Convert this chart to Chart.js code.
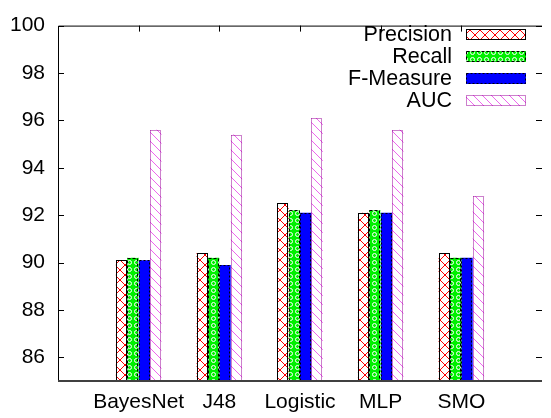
<!DOCTYPE html>
<html>
<head>
<meta charset="utf-8">
<script src="https://cdn.jsdelivr.net/npm/chart.js"></script>
<style>
html, body { margin: 0; padding: 0; background: #fff; overflow: hidden; }
</style>
</head>
<body>
<canvas id="chart" width="551" height="418"></canvas>
<script>
const categories = ['BayesNet', 'J48', 'Logistic', 'MLP', 'SMO'];
const precision = [90.1, 90.4, 92.5, 92.1, 90.4];
const recall = [90.2, 90.2, 92.2, 92.2, 90.2];
const fMeasure = [90.1, 89.9, 92.1, 92.1, 90.2];
const auc = [95.6, 95.4, 96.1, 95.6, 92.8];
const yTicks = [86, 88, 90, 92, 94, 96, 98, 100];

const FONT = '"Liberation Sans", Arial, sans-serif';

function makeTile(w, h, draw) {
    const c = document.createElement('canvas');
    c.width = w; c.height = h;
    const g = c.getContext('2d');
    draw(g, w, h);
    return document.getElementById('chart').getContext('2d').createPattern(c, 'repeat');
}

// red cross hatch
const crossPattern = makeTile(10, 10, (g, w, h) => {
    g.fillStyle = '#fff'; g.fillRect(0, 0, w, h);
    g.strokeStyle = '#ff0000'; g.lineWidth = 1;
    g.beginPath();
    g.moveTo(0, 0); g.lineTo(w, h);
    g.moveTo(w, 0); g.lineTo(0, h);
    g.stroke();
});

// green with little rings
const ringPattern = makeTile(7, 7, (g, w, h) => {
    g.fillStyle = '#00f000'; g.fillRect(0, 0, w, h);
    g.strokeStyle = '#ffffff'; g.lineWidth = 1;
    g.beginPath(); g.arc(3.5, 3.5, 2, 0, Math.PI * 2); g.stroke();
});

// magenta backslash lines
const hatchPattern = makeTile(9, 9, (g, w, h) => {
    g.fillStyle = '#fff'; g.fillRect(0, 0, w, h);
    g.strokeStyle = '#ee66ee'; g.lineWidth = 1;
    g.beginPath();
    g.moveTo(0, 0); g.lineTo(w, h);
    g.moveTo(-1, h - 1); g.lineTo(1, h + 1);
    g.moveTo(w - 1, -1); g.lineTo(w + 1, 1);
    g.stroke();
});

const pad = arr => [null, ...arr, null];

const frameAndLegend = {
    id: 'frameAndLegend',
    afterDatasetsDraw(chart) {
        const ctx = chart.ctx;
        const a = chart.chartArea;
        const xs = chart.scales.x, ys = chart.scales.y;

        // dashed bar outlines, base clipped to the plot bottom
        chart.data.datasets.forEach((ds, i) => {
            const meta = chart.getDatasetMeta(i);
            meta.data.forEach((bar, j) => {
                if (ds.data[j] == null) return;
                const p = bar.getProps(['x', 'y', 'base', 'width'], true);
                const base = Math.min(p.base, a.bottom);
                ctx.save();
                ctx.strokeStyle = ds.edgeColor;
                ctx.setLineDash(ds.edgeDash);
                ctx.lineWidth = 1;
                const left = Math.round(p.x - p.width / 2) + 0.5;
                const top = Math.round(p.y) + 0.5;
                ctx.strokeRect(left, top, Math.round(p.width) - 1, Math.round(base) - top);
                ctx.restore();
            });
        });

        // border
        ctx.save();
        ctx.strokeStyle = '#000';
        ctx.lineWidth = 1;
        ctx.beginPath();
        ctx.moveTo(a.left + 0.5, a.bottom);
        ctx.lineTo(a.left + 0.5, a.top + 0.5);
        ctx.lineTo(a.right, a.top + 0.5);
        ctx.stroke();
        ctx.strokeStyle = '#404040';
        ctx.lineWidth = 2;
        ctx.beginPath();
        ctx.moveTo(a.left, a.bottom);
        ctx.lineTo(a.right, a.bottom);
        ctx.stroke();

        // inward ticks
        ctx.lineWidth = 1;
        ctx.strokeStyle = '#000';
        ctx.beginPath();
        yTicks.forEach(v => {
            const py = Math.round(ys.getPixelForValue(v)) + 0.5;
            ctx.moveTo(a.left, py); ctx.lineTo(a.left + 6, py);
            ctx.moveTo(a.right, py); ctx.lineTo(a.right - 6, py);
        });
        categories.forEach((c, i) => {
            const px = Math.round(xs.getPixelForValue(i + 1)) + 0.5;
            ctx.moveTo(px, a.top); ctx.lineTo(px, a.top + 6);
        });
        ctx.stroke();

        // legend, gnuplot style: text then sample box
        ctx.font = '21.5px ' + FONT;
        ctx.textAlign = 'right';
        ctx.textBaseline = 'middle';
        chart.data.datasets.forEach((ds, i) => {
            const yc = 34 + i * 22;
            ctx.fillStyle = '#000';
            ctx.fillText(ds.label, 452, yc + 1);
            ctx.fillStyle = ds.backgroundColor;
            ctx.fillRect(466, yc - 5, 60, 11);
            ctx.setLineDash(ds.edgeDash);
            ctx.strokeStyle = ds.edgeColor;
            ctx.strokeRect(466.5, yc - 5 + 0.5, 59, 10);
        });
        ctx.restore();
    }
};

new Chart(document.getElementById('chart'), {
    type: 'bar',
    data: {
        labels: ['', ...categories, ''],
        datasets: [
            { label: 'Precision', data: pad(precision), backgroundColor: crossPattern, edgeColor: '#000', edgeDash: [] },
            { label: 'Recall', data: pad(recall), backgroundColor: ringPattern, edgeColor: '#000', edgeDash: [3, 2] },
            { label: 'F-Measure', data: pad(fMeasure), backgroundColor: '#0000ff', edgeColor: '#000', edgeDash: [2, 2] },
            { label: 'AUC', data: pad(auc), backgroundColor: hatchPattern, edgeColor: '#990099', edgeDash: [1, 1] }
        ]
    },
    options: {
        responsive: false,
        animation: false,
        events: [],
        layout: { padding: { top: 17, right: 0, left: 0, bottom: 0 } },
        datasets: { bar: { borderWidth: 0, categoryPercentage: 0.565, barPercentage: 1.0 } },
        plugins: { legend: { display: false }, tooltip: { enabled: false } },
        scales: {
            x: {
                offset: false,
                grid: { display: false, drawTicks: false },
                border: { display: false },
                ticks: { autoSkip: false, maxRotation: 0, padding: 9, color: '#000', font: { family: FONT, size: 21 } },
                afterFit: s => { s.height = 37; }
            },
            y: {
                min: 85,
                max: 100,
                grid: { display: false, drawTicks: false },
                border: { display: false },
                ticks: { padding: 13, color: '#000', font: { family: FONT, size: 21 } },
                afterBuildTicks: s => { s.ticks = yTicks.map(v => ({ value: v })); },
                afterFit: s => { s.width = 58; }
            }
        }
    },
    plugins: [frameAndLegend]
});
</script>
</body>
</html>
